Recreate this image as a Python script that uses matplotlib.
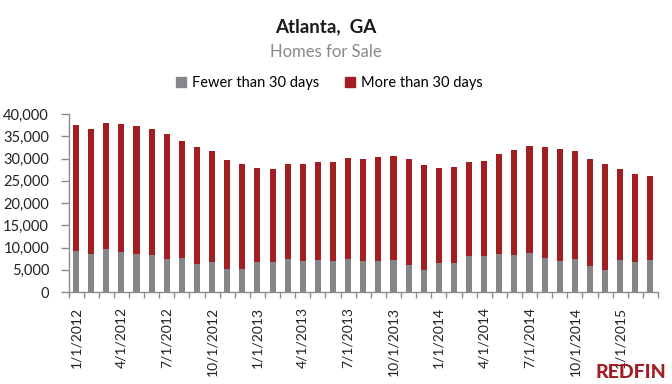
import matplotlib.pyplot as plt
from matplotlib.patches import Patch
from matplotlib.ticker import FuncFormatter
import numpy as np

# ------------------------
# Data (Jan 2012 - Mar 2015, monthly)
# ------------------------
months = []
for year in range(2012, 2016):
    for m in range(1, 13):
        months.append(f"{m}/1/{year}")
months = months[:39]

total = [37500, 36600, 38000, 37750, 37300, 36600, 35500, 33900, 32550, 31650,
         29650, 28750, 27850, 27600, 28750, 28750, 29200, 29200, 30100, 29850,
         30300, 30550, 29850, 28500, 27850, 28050, 29200, 29400, 31000, 31900,
         32800, 32550, 32100, 31650, 29850, 28750, 27600, 26500, 26050]
fewer = [9150, 8500, 9600, 8950, 8500, 8250, 7350, 7600, 6250, 6700,
         5100, 5100, 6700, 6700, 7350, 6900, 7150, 6900, 7350, 6900,
         6900, 7150, 6000, 4900, 6450, 6450, 8050, 8050, 8500, 8250,
         8700, 7600, 6900, 7350, 5800, 4900, 7150, 6700, 7150]
more = [t - f for t, f in zip(total, fewer)]

gray = "#86868a"
red = "#a11f23"

plt.rcParams['font.family'] = ['Lato', 'DejaVu Sans']

fig = plt.figure(figsize=(6.72, 3.84), dpi=100)
ax = fig.add_axes([68.5 / 672, 1 - 292 / 384, (658 - 68.5) / 672, (292 - 114) / 384])

x = np.arange(len(months))
ax.bar(x, fewer, width=0.4, color=gray)
ax.bar(x, more, width=0.4, bottom=fewer, color=red)

ax.set_xlim(-0.5, len(months) - 0.5)
ax.set_ylim(0, 40000)
ax.set_yticks(range(0, 40001, 5000))
ax.yaxis.set_major_formatter(FuncFormatter(lambda v, p: f"{int(v):,}"))

# tick marks between categories, labels every 3 months
ax.set_xticks(np.arange(-0.5, len(months), 1), minor=True)
ax.set_xticks(x[::3])
ax.set_xticklabels(months[::3], rotation=90, fontsize=10, color="#222222")
ax.tick_params(axis='x', which='major', length=0, pad=11)
ax.tick_params(axis='x', which='minor', length=4, color="#8c8c8c", width=1)
ax.tick_params(axis='y', length=6, color="#8c8c8c", width=1, labelsize=10.5,
               labelcolor="#222222", pad=8)

for s in ['top', 'right']:
    ax.spines[s].set_visible(False)
for s in ['left', 'bottom']:
    ax.spines[s].set_color("#8c8c8c")
    ax.spines[s].set_linewidth(1)

fig.text(0.485, 1 - 27 / 384, "Atlanta,  GA", ha='center', va='center',
         fontsize=13.5, fontweight='bold', color="#1a1a1a")
fig.text(0.485, 1 - 52 / 384, "Homes for Sale", ha='center', va='center',
         fontsize=12, color="#8a8a8a")

handles = [Patch(color=gray), Patch(color=red)]
fig.legend(handles, ["Fewer than 30 days", "More than 30 days"],
           loc='center', bbox_to_anchor=(0.49, 1 - 83 / 384), ncol=2,
           frameon=False, fontsize=10.5, handlelength=0.7, handleheight=0.7,
           handletextpad=0.4, columnspacing=1.8)

fig.text(666 / 672, 1 - 373 / 384, "REDFIN", ha='right', va='center',
         fontsize=14, fontweight='black', color="#a11f23")

fig.savefig("out.png", dpi=100)
